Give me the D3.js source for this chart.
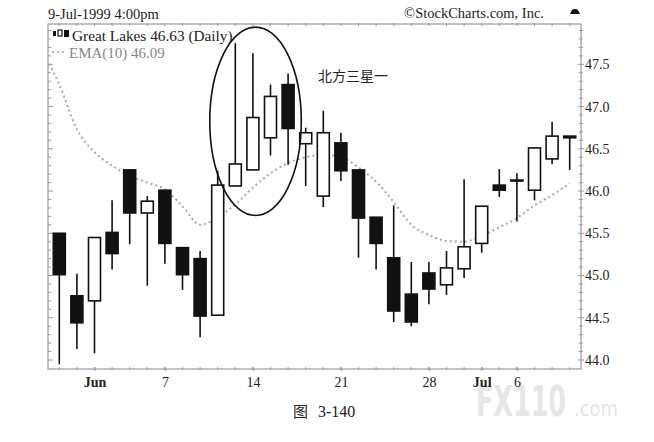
<!DOCTYPE html>
<html><head><meta charset="utf-8">
<script src="https://cdn.jsdelivr.net/npm/d3@7/dist/d3.min.js"></script>
<style>
html,body{margin:0;padding:0;background:#fff;}
svg{display:block;}
</style></head>
<body>
<script>
// ---- data ----
const dates  = ["May 27","May 28","Jun 1","Jun 2","Jun 3","Jun 4","Jun 7","Jun 8","Jun 9","Jun 10","Jun 11",
                "Jun 14","Jun 15","Jun 16","Jun 17","Jun 18","Jun 21","Jun 22","Jun 23","Jun 24","Jun 25",
                "Jun 28","Jun 29","Jun 30","Jul 1","Jul 2","Jul 6","Jul 7","Jul 8","Jul 9"];
const opens  = [45.50,44.76,44.70,45.51,46.25,45.74,46.01,45.33,45.20,44.53,46.06,
                46.25,46.63,47.26,46.56,45.94,46.57,46.25,45.69,45.21,44.78,
                45.03,44.89,45.08,45.38,46.07,46.12,46.01,46.38,46.65];
const highs  = [45.50,45.02,45.45,45.89,46.25,45.94,46.01,45.33,45.29,46.24,47.75,
                47.63,47.26,47.39,46.75,46.95,46.69,46.25,45.69,45.83,45.16,
                45.16,45.29,46.14,45.82,46.26,46.21,46.51,46.82,46.65];
const lows   = [43.95,44.13,44.08,45.07,45.37,44.88,45.14,44.83,44.27,44.53,46.06,
                46.25,46.42,46.31,46.06,45.81,46.12,45.21,45.07,44.45,44.40,
                44.66,44.77,44.97,45.27,45.93,45.64,45.89,46.32,46.25];
const closes = [45.01,44.44,45.45,45.26,45.74,45.88,45.38,45.01,44.52,46.07,46.32,
                46.87,47.12,46.74,46.69,46.69,46.24,45.68,45.38,44.58,44.45,
                44.84,45.09,45.34,45.82,46.01,46.13,46.51,46.65,46.63];
const emaPrior = 47.66; // EMA value of the session before the first visible day
const ema    = [47.26,46.73,46.46,46.30,46.18,46.10,46.02,45.82,45.60,45.69,45.84,
                46.04,46.21,46.33,46.40,46.43,46.40,46.28,46.11,45.87,45.60,
                45.48,45.41,45.40,45.47,45.57,45.68,45.83,45.95,46.09];
const yTicks = [44.0,44.5,45.0,45.5,46.0,46.5,47.0,47.5];
const xTickDates  = ["Jun 1","Jun 7","Jun 14","Jun 21","Jun 28","Jul 1","Jul 6"];
const xTickLabels = ["Jun","7","14","21","28","Jul","6"];
const xTickBold   = [true,false,false,false,false,true,false];
// annotation ellipse (in data terms: centre index, price range, half width in days)
const ellipseCenterIdx = 11.15, ellipseTop = 47.94, ellipseBottom = 45.71, ellipseHalfDays = 2.6;
const noteText = "北方三星一";
const noteIdx = 14.7, notePrice = 47.30;

// ---- layout ----
const W = 654, H = 442;
const plot = {l:48, r:581, t:24, b:369};
const serif = "'Liberation Serif','DejaVu Serif',serif";

const svg = d3.select("body").append("svg").attr("width",W).attr("height",H);

const xi = d3.scaleLinear().domain([0, dates.length-1]).range([59.3, 569.7]);
const x = d => xi(dates.indexOf(d));
const y = d3.scaleLinear().domain([44.0, 47.5]).range([360, 64.3]);

// clip
svg.append("defs").append("clipPath").attr("id","clip")
  .append("rect").attr("x",plot.l).attr("y",plot.t).attr("width",plot.r-plot.l).attr("height",plot.b-plot.t);

// watermark (drawn first, very light)
svg.append("text").attr("x",476).attr("y",416).text("FX110")
  .attr("font-family","'DejaVu Sans',sans-serif").attr("font-weight","bold").attr("font-size",42)
  .attr("textLength",90).attr("lengthAdjust","spacingAndGlyphs").attr("fill","#e6e6e6");
svg.append("text").attr("x",574).attr("y",416).text(".com")
  .attr("font-family","'DejaVu Sans',sans-serif").attr("font-size",22)
  .attr("textLength",44).attr("lengthAdjust","spacingAndGlyphs").attr("fill","#e6e6e6");

// frame
svg.append("rect").attr("x",plot.l).attr("y",plot.t).attr("width",plot.r-plot.l).attr("height",plot.b-plot.t)
  .attr("fill","none").attr("stroke","#9a9a9a").attr("stroke-width",1.2);

// minor ticks on left & right (every 0.1)
const minor = d3.range(439, 480).map(v => v/10).filter(v => y(v) > plot.t+1 && y(v) < plot.b-1);
svg.append("g").selectAll("line.ml").data(minor).join("line")
  .attr("x1",plot.l).attr("x2",d => plot.l + (Math.round(d*10)%5===0 ? 5 : 3))
  .attr("y1",d=>y(d)).attr("y2",d=>y(d)).attr("stroke","#9a9a9a").attr("stroke-width",1);
svg.append("g").selectAll("line.mr").data(minor).join("line")
  .attr("x1",d => plot.r - (Math.round(d*10)%5===0 ? 3 : 2)).attr("x2",d => plot.r + (Math.round(d*10)%5===0 ? 3 : 2))
  .attr("y1",d=>y(d)).attr("y2",d=>y(d)).attr("stroke","#9a9a9a").attr("stroke-width",1);

// right axis labels
const yAxis = d3.axisRight(y).tickValues(yTicks).tickFormat(d3.format(".1f")).tickSize(0).tickPadding(4);
const gy = svg.append("g").attr("transform",`translate(${plot.r},0)`).call(yAxis);
gy.select(".domain").remove();
gy.selectAll("text").attr("font-family",serif).attr("font-size",14).attr("fill","#222");

// bottom daily ticks + top ticks
svg.append("g").selectAll("line.bd").data(dates).join("line")
  .attr("x1",d=>x(d)).attr("x2",d=>x(d)).attr("y1",plot.b-2).attr("y2",plot.b+1)
  .attr("stroke","#9a9a9a").attr("stroke-width",1);
svg.append("g").selectAll("line.td").data(dates).join("line")
  .attr("x1",d=>x(d)).attr("x2",d=>x(d)).attr("y1",plot.t-1).attr("y2",plot.t+2)
  .attr("stroke","#9a9a9a").attr("stroke-width",1);

// bottom axis labels
const xAxis = d3.axisBottom(d3.scalePoint().domain(dates).range([xi(0), xi(dates.length-1)]))
  .tickValues(xTickDates).tickSize(4).tickFormat((d,i) => xTickLabels[i]).tickPadding(6);
const gx = svg.append("g").attr("transform",`translate(0,${plot.b-2})`).call(xAxis);
gx.select(".domain").remove();
gx.selectAll("line").attr("stroke","#9a9a9a");
gx.selectAll("text").attr("font-family",serif).attr("font-size",14).attr("fill","#222")
  .attr("font-weight",(d,i) => xTickBold[i] ? "bold" : "normal");

const g = svg.append("g").attr("clip-path","url(#clip)");

// EMA line
const emaPts = [{i:-1, v:emaPrior}].concat(ema.map((v,i)=>({i, v})));
g.append("path").datum(emaPts)
  .attr("d", d3.line().x(d=>xi(d.i)).y(d=>y(d.v)).curve(d3.curveMonotoneX))
  .attr("fill","none").attr("stroke","#a8a8a8").attr("stroke-width",2)
  .attr("stroke-dasharray","2,3");

// candles
const cw = 12;
const candles = dates.map((d,i)=>({d, o:opens[i], h:highs[i], l:lows[i], c:closes[i]}));
const cg = g.append("g").selectAll("g").data(candles).join("g");
cg.append("line").attr("x1",d=>x(d.d)).attr("x2",d=>x(d.d))
  .attr("y1",d=>y(d.h)).attr("y2",d=>y(d.l)).attr("stroke","#111").attr("stroke-width",1.6);
cg.append("rect")
  .attr("x",d=>x(d.d)-cw/2).attr("width",cw)
  .attr("y",d=>y(Math.max(d.o,d.c)))
  .attr("height",d=>Math.max(1, Math.abs(y(d.o)-y(d.c))))
  .attr("fill",d=> d.c < d.o ? "#111" : "#fff")
  .attr("stroke","#111").attr("stroke-width",1.6);

// ellipse annotation
const ecx = xi(ellipseCenterIdx), ecy = (y(ellipseTop)+y(ellipseBottom))/2;
svg.append("ellipse").attr("cx",ecx).attr("cy",ecy)
  .attr("rx", xi(ellipseHalfDays) - xi(0)).attr("ry",(y(ellipseBottom)-y(ellipseTop))/2)
  .attr("fill","none").attr("stroke","#111").attr("stroke-width",1.6);

// note text
svg.append("text").attr("x",xi(noteIdx)).attr("y",y(notePrice)).text(noteText)
  .attr("font-family","'Noto Sans CJK SC',sans-serif").attr("font-size",14).attr("fill","#222");

// header
svg.append("text").attr("x",plot.l).attr("y",19).text("9-Jul-1999 4:00pm")
  .attr("font-family",serif).attr("font-size",14.5).attr("fill","#222");
svg.append("text").attr("x",544).attr("y",18).attr("text-anchor","end").text("©StockCharts.com, Inc.")
  .attr("font-family",serif).attr("font-size",14.5).attr("fill","#222");
svg.append("path").attr("d","M570,14 L572,10 Q575,8 578,10 L580,14 Z").attr("fill","#111");

// legend
const lg = svg.append("g");
lg.append("rect").attr("x",53).attr("y",31).attr("width",3).attr("height",5).attr("fill","#111");
lg.append("rect").attr("x",58).attr("y",30).attr("width",4).attr("height",6).attr("fill","#fff").attr("stroke","#111").attr("stroke-width",1.2);
lg.append("rect").attr("x",64).attr("y",30).attr("width",5).attr("height",7).attr("fill","#111");
lg.append("text").attr("x",72).attr("y",41).text("Great Lakes 46.63 (Daily)")
  .attr("font-family",serif).attr("font-size",15.3).attr("fill","#222");
lg.append("line").attr("x1",52).attr("x2",67).attr("y1",52).attr("y2",52)
  .attr("stroke","#a0a0a0").attr("stroke-width",1.5).attr("stroke-dasharray","2,3");
lg.append("text").attr("x",69).attr("y",58).text("EMA(10) 46.09")
  .attr("font-family",serif).attr("font-size",15).attr("fill","#888");

// caption
svg.append("text").attr("x",293).attr("y",417).text("图")
  .attr("font-family","'Noto Sans CJK SC',sans-serif").attr("font-size",15).attr("fill","#222");
svg.append("text").attr("x",318).attr("y",417).text("3-140")
  .attr("font-family",serif).attr("font-size",16).attr("fill","#222");
</script>
</body></html>
